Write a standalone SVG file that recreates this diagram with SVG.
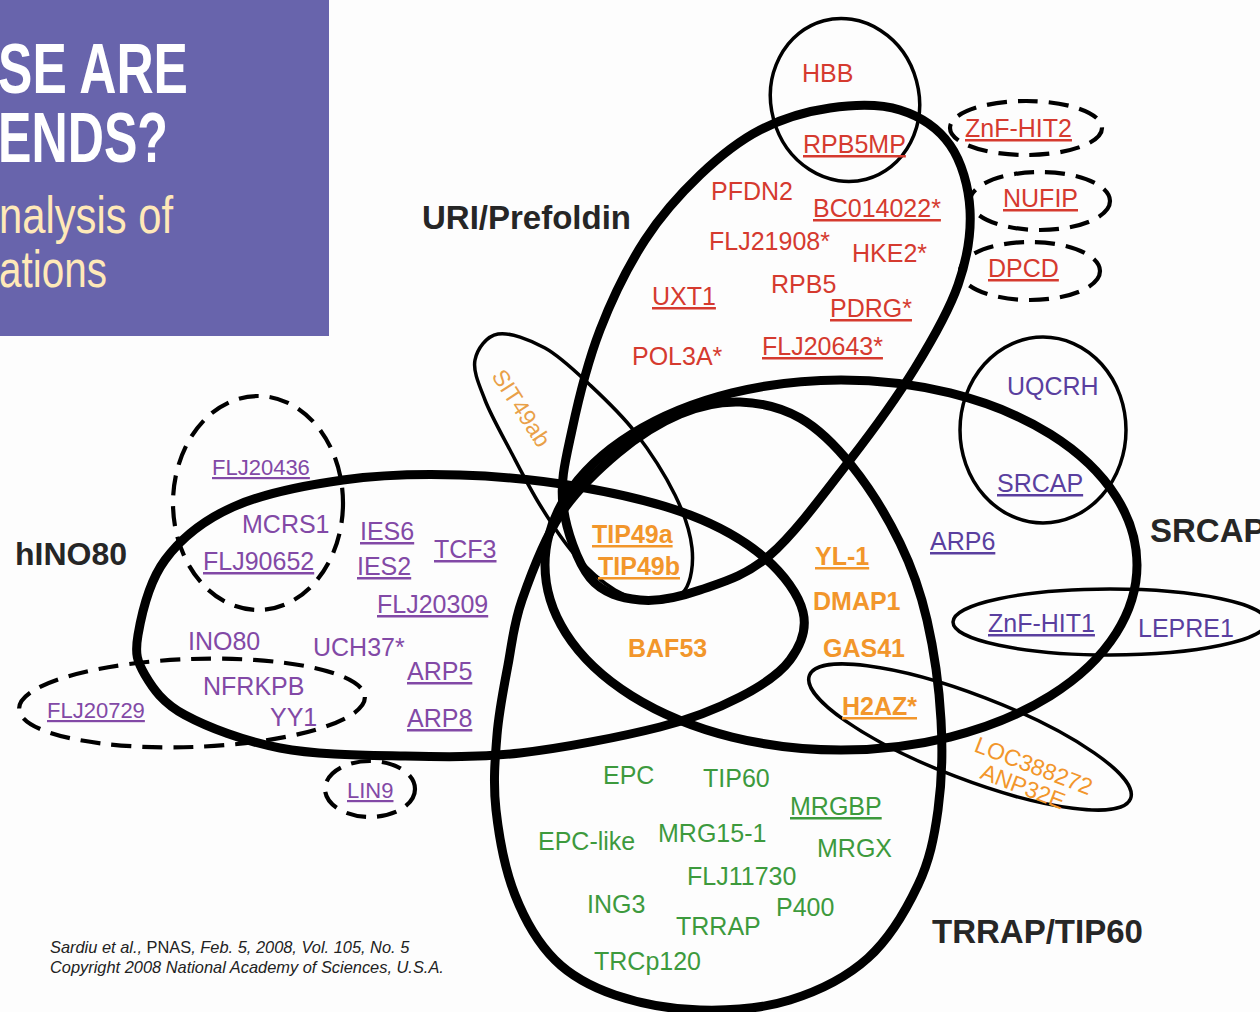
<svg xmlns="http://www.w3.org/2000/svg" width="1260" height="1012" viewBox="0 0 1260 1012">
<style>
text{font-family:"Liberation Sans",Arial,sans-serif}
.thick{fill:none;stroke:#000;stroke-width:9}
.thin{fill:none;stroke:#000;stroke-width:3.5}
.dash{fill:none;stroke:#000;stroke-width:4.2;stroke-dasharray:20 11}
.m{font-size:25px}
.s{font-size:22px}
.red{fill:#D53A2F}
.pur{fill:#8249A6}
.ind{fill:#5A3F9F}
.org{fill:#F2962B}
.grn{fill:#3D9A3D}
.u{text-decoration:underline}
.b{font-weight:bold}
.lab{font-size:33px;font-weight:bold;fill:#262626}
</style>
<rect width="1260" height="1012" fill="#fdfdfd"/>
<g id="title">
<rect x="0" y="0" width="329" height="336" fill="#6864AC"/>
<text x="-2" y="93" font-size="71" font-weight="bold" fill="#fff" textLength="190" lengthAdjust="spacingAndGlyphs">SE ARE</text>
<text x="-2" y="162" font-size="71" font-weight="bold" fill="#fff" textLength="170" lengthAdjust="spacingAndGlyphs">ENDS?</text>
<text x="-1" y="233" font-size="52" fill="#FFE9B8" textLength="174" lengthAdjust="spacingAndGlyphs">nalysis of</text>
<text x="-1" y="287" font-size="52" fill="#FFE9B8" textLength="108" lengthAdjust="spacingAndGlyphs">ations</text>
</g>
<g id="connectors"></g>
<g id="hbb-node"><ellipse class="thin" cx="845" cy="100" rx="74" ry="82" transform="rotate(-15 845 100)"/></g>
<g id="znfhit2-node"><ellipse class="dash" cx="1026" cy="128" rx="76" ry="27"/></g>
<g id="nufip-node"><ellipse class="dash" cx="1040" cy="201" rx="70" ry="29"/></g>
<g id="dpcd-node"><ellipse class="dash" cx="1030" cy="271" rx="70" ry="29"/></g>
<g id="uqcrh-node"><ellipse class="thin" cx="1043" cy="430" rx="83" ry="93"/></g>
<g id="znfhit1-node"><ellipse class="thin" cx="1110" cy="622" rx="157" ry="33"/></g>
<g id="h2az-node"><ellipse class="thin" cx="970" cy="737" rx="172" ry="42" transform="rotate(21 970 737)"/></g>
<g id="sit49ab-node"><path class="thin" d="M498,334 C509.7,332 529.7,339.5 545,348 C560.3,356.5 575,371 590,385 C605,399 620.8,413.7 635,432 C649.2,450.3 665.5,475.7 675,495 C684.5,514.3 690.3,532.2 692,548 C693.7,563.8 691.2,581 685,590 C678.8,599 666.7,602 655,602 C643.3,602 628.3,597.8 615,590 C601.7,582.2 587.5,569.2 575,555 C562.5,540.8 550.8,522.5 540,505 C529.2,487.5 519.2,467.5 510,450 C500.8,432.5 490.8,415 485,400 C479.2,385 472.8,371 475,360 C477.2,349 486.3,336 498,334 Z"/></g>
<g id="flj20436-node"><ellipse class="dash" cx="258" cy="503" rx="85" ry="107"/></g>
<g id="flj20729-node"><ellipse class="dash" cx="192" cy="703" rx="173" ry="44" transform="rotate(-2 192 703)"/></g>
<g id="lin9-node"><ellipse class="dash" cx="370" cy="789" rx="45" ry="28"/></g>
<g id="uri-prefoldin"><path class="thick" d="M830,108 C853.3,104.7 880,103.8 900,110 C920,116.2 938.3,128.3 950,145 C961.7,161.7 968.7,186.7 970,210 C971.3,233.3 967.2,258.7 958,285 C948.8,311.3 933,338.8 915,368 C897,397.2 874.2,428.8 850,460 C825.8,491.2 795,533.3 770,555 C745,576.7 721.7,582.5 700,590 C678.3,597.5 658.3,602 640,600 C621.7,598 602.8,593.8 590,578 C577.2,562.2 566,529.7 563,505 C560,480.3 565.8,459.2 572,430 C578.2,400.8 587.8,361.7 600,330 C612.2,298.3 628.3,265.8 645,240 C661.7,214.2 680.8,193.3 700,175 C719.2,156.7 738.3,141.2 760,130 C781.7,118.8 806.7,111.3 830,108 Z"/>
<text class="lab" x="422" y="229">URI/Prefoldin</text></g>
<g id="hino80"><path class="thick" d="M138,635 C141.3,615.8 149.2,581.3 165,560 C180.8,538.7 203.3,520.3 233,507 C262.7,493.7 305.2,485.3 343,480 C380.8,474.7 420.5,473.8 460,475 C499.5,476.2 541.7,480.3 580,487 C618.3,493.7 659.2,503.2 690,515 C720.8,526.8 746.2,541.8 765,558 C783.8,574.2 798.8,595 803,612 C807.2,629 800.5,645.8 790,660 C779.5,674.2 761.7,685.8 740,697 C718.3,708.2 696.7,717.7 660,727 C623.3,736.3 563.3,748.2 520,753 C476.7,757.8 440,756.8 400,756 C360,755.2 315.8,754.8 280,748 C244.2,741.2 207.5,727.2 185,715 C162.5,702.8 152.8,688.3 145,675 C137.2,661.7 134.7,654.2 138,635 Z"/>
<text class="lab" x="15" y="565" style="font-size:32px">hINO80</text></g>
<g id="srcap"><ellipse class="thick" cx="841" cy="565" rx="296" ry="185"/>
<text class="lab" x="1150" y="542">SRCAP</text></g>
<g id="trrap-tip60"><path class="thick" d="M740,402 C760,402.7 781.3,407.3 800,418 C818.7,428.7 835.3,445.2 852,466 C868.7,486.8 887.5,517.3 900,543 C912.5,568.7 920.2,590.5 927,620 C933.8,649.5 939.2,688.3 941,720 C942.8,751.7 941.8,782.5 938,810 C934.2,837.5 929.7,860.3 918,885 C906.3,909.7 889.3,938.8 868,958 C846.7,977.2 818,991.3 790,1000 C762,1008.7 729.2,1010.8 700,1010 C670.8,1009.2 639.2,1003.3 615,995 C590.8,986.7 571.7,976.7 555,960 C538.3,943.3 524.8,920 515,895 C505.2,870 499,836.7 496,810 C493,783.3 495,759.2 497,735 C499,710.8 503.8,687.5 508,665 C512.2,642.5 513.3,625 522,600 C530.7,575 544,539.5 560,515 C576,490.5 598,469.8 618,453 C638,436.2 659.7,422.5 680,414 C700.3,405.5 720,401.3 740,402 Z"/>
<text class="lab" x="932" y="943">TRRAP/TIP60</text></g>
<g id="uri-members" class="m red">
<text x="802" y="82">HBB</text>
<text class="u" x="803" y="153">RPB5MP</text>
<text x="711" y="200">PFDN2</text>
<text class="u" x="813" y="217">BC014022*</text>
<text x="709" y="250">FLJ21908*</text>
<text x="852" y="262">HKE2*</text>
<text class="u" x="652" y="305">UXT1</text>
<text x="771" y="293">RPB5</text>
<text class="u" x="830" y="317">PDRG*</text>
<text x="632" y="365">POL3A*</text>
<text class="u" x="762" y="355">FLJ20643*</text>
<text class="u" x="965" y="137">ZnF-HIT2</text>
<text class="u" x="1003" y="207">NUFIP</text>
<text class="u" x="988" y="277">DPCD</text>
</g>
<g id="hino80-members" class="m pur">
<text class="u s" x="212" y="475">FLJ20436</text>
<text x="242" y="533">MCRS1</text>
<text class="u" x="203" y="570">FLJ90652</text>
<text class="u" x="360" y="540">IES6</text>
<text class="u" x="357" y="575">IES2</text>
<text class="u" x="434" y="558">TCF3</text>
<text class="u" x="377" y="613">FLJ20309</text>
<text x="188" y="650">INO80</text>
<text x="313" y="656">UCH37*</text>
<text class="u" x="407" y="680">ARP5</text>
<text x="203" y="695">NFRKPB</text>
<text x="270" y="726">YY1</text>
<text class="u" x="407" y="727">ARP8</text>
<text class="u s" x="47" y="718">FLJ20729</text>
<text class="u s" x="347" y="798">LIN9</text>
</g>
<g id="srcap-members" class="m ind">
<text x="1007" y="395">UQCRH</text>
<text class="u" x="997" y="492">SRCAP</text>
<text class="u" x="930" y="550">ARP6</text>
<text class="u" x="988" y="632">ZnF-HIT1</text>
<text x="1138" y="637">LEPRE1</text>
</g>
<g id="shared-members" class="m org">
<text class="u b" x="592" y="543">TIP49a</text>
<text class="u b" x="598" y="575">TIP49b</text>
<text class="u b" x="815" y="565">YL-1</text>
<text class="b" x="813" y="610">DMAP1</text>
<text class="b" x="823" y="657">GAS41</text>
<text class="b" x="628" y="657">BAF53</text>
<text class="u b" x="842" y="715">H2AZ*</text>
<text x="0" y="0" font-size="23" fill="#E9A048" transform="translate(491 376) rotate(57)">SIT49ab</text>
<text x="0" y="0" font-size="23" transform="translate(973 751) rotate(21)">LOC388272</text>
<text x="0" y="0" font-size="23" transform="translate(979 778) rotate(21)">ANP32E</text>
</g>
<g id="trrap-members" class="m grn">
<text x="603" y="784">EPC</text>
<text x="703" y="787">TIP60</text>
<text class="u" x="790" y="815">MRGBP</text>
<text x="538" y="850">EPC-like</text>
<text x="658" y="842">MRG15-1</text>
<text x="817" y="857">MRGX</text>
<text x="687" y="885">FLJ11730</text>
<text x="587" y="913">ING3</text>
<text x="776" y="916">P400</text>
<text x="676" y="935">TRRAP</text>
<text x="594" y="970">TRCp120</text>
</g>
<g id="citation" font-size="16.4" fill="#222">
<text x="50" y="953" font-style="italic">Sardiu et al., <tspan font-style="normal">PNAS</tspan>, Feb. 5, 2008, Vol. 105, No. 5</text>
<text x="50" y="973" font-style="italic">Copyright 2008 National Academy of Sciences, U.S.A.</text>
</g>
</svg>
